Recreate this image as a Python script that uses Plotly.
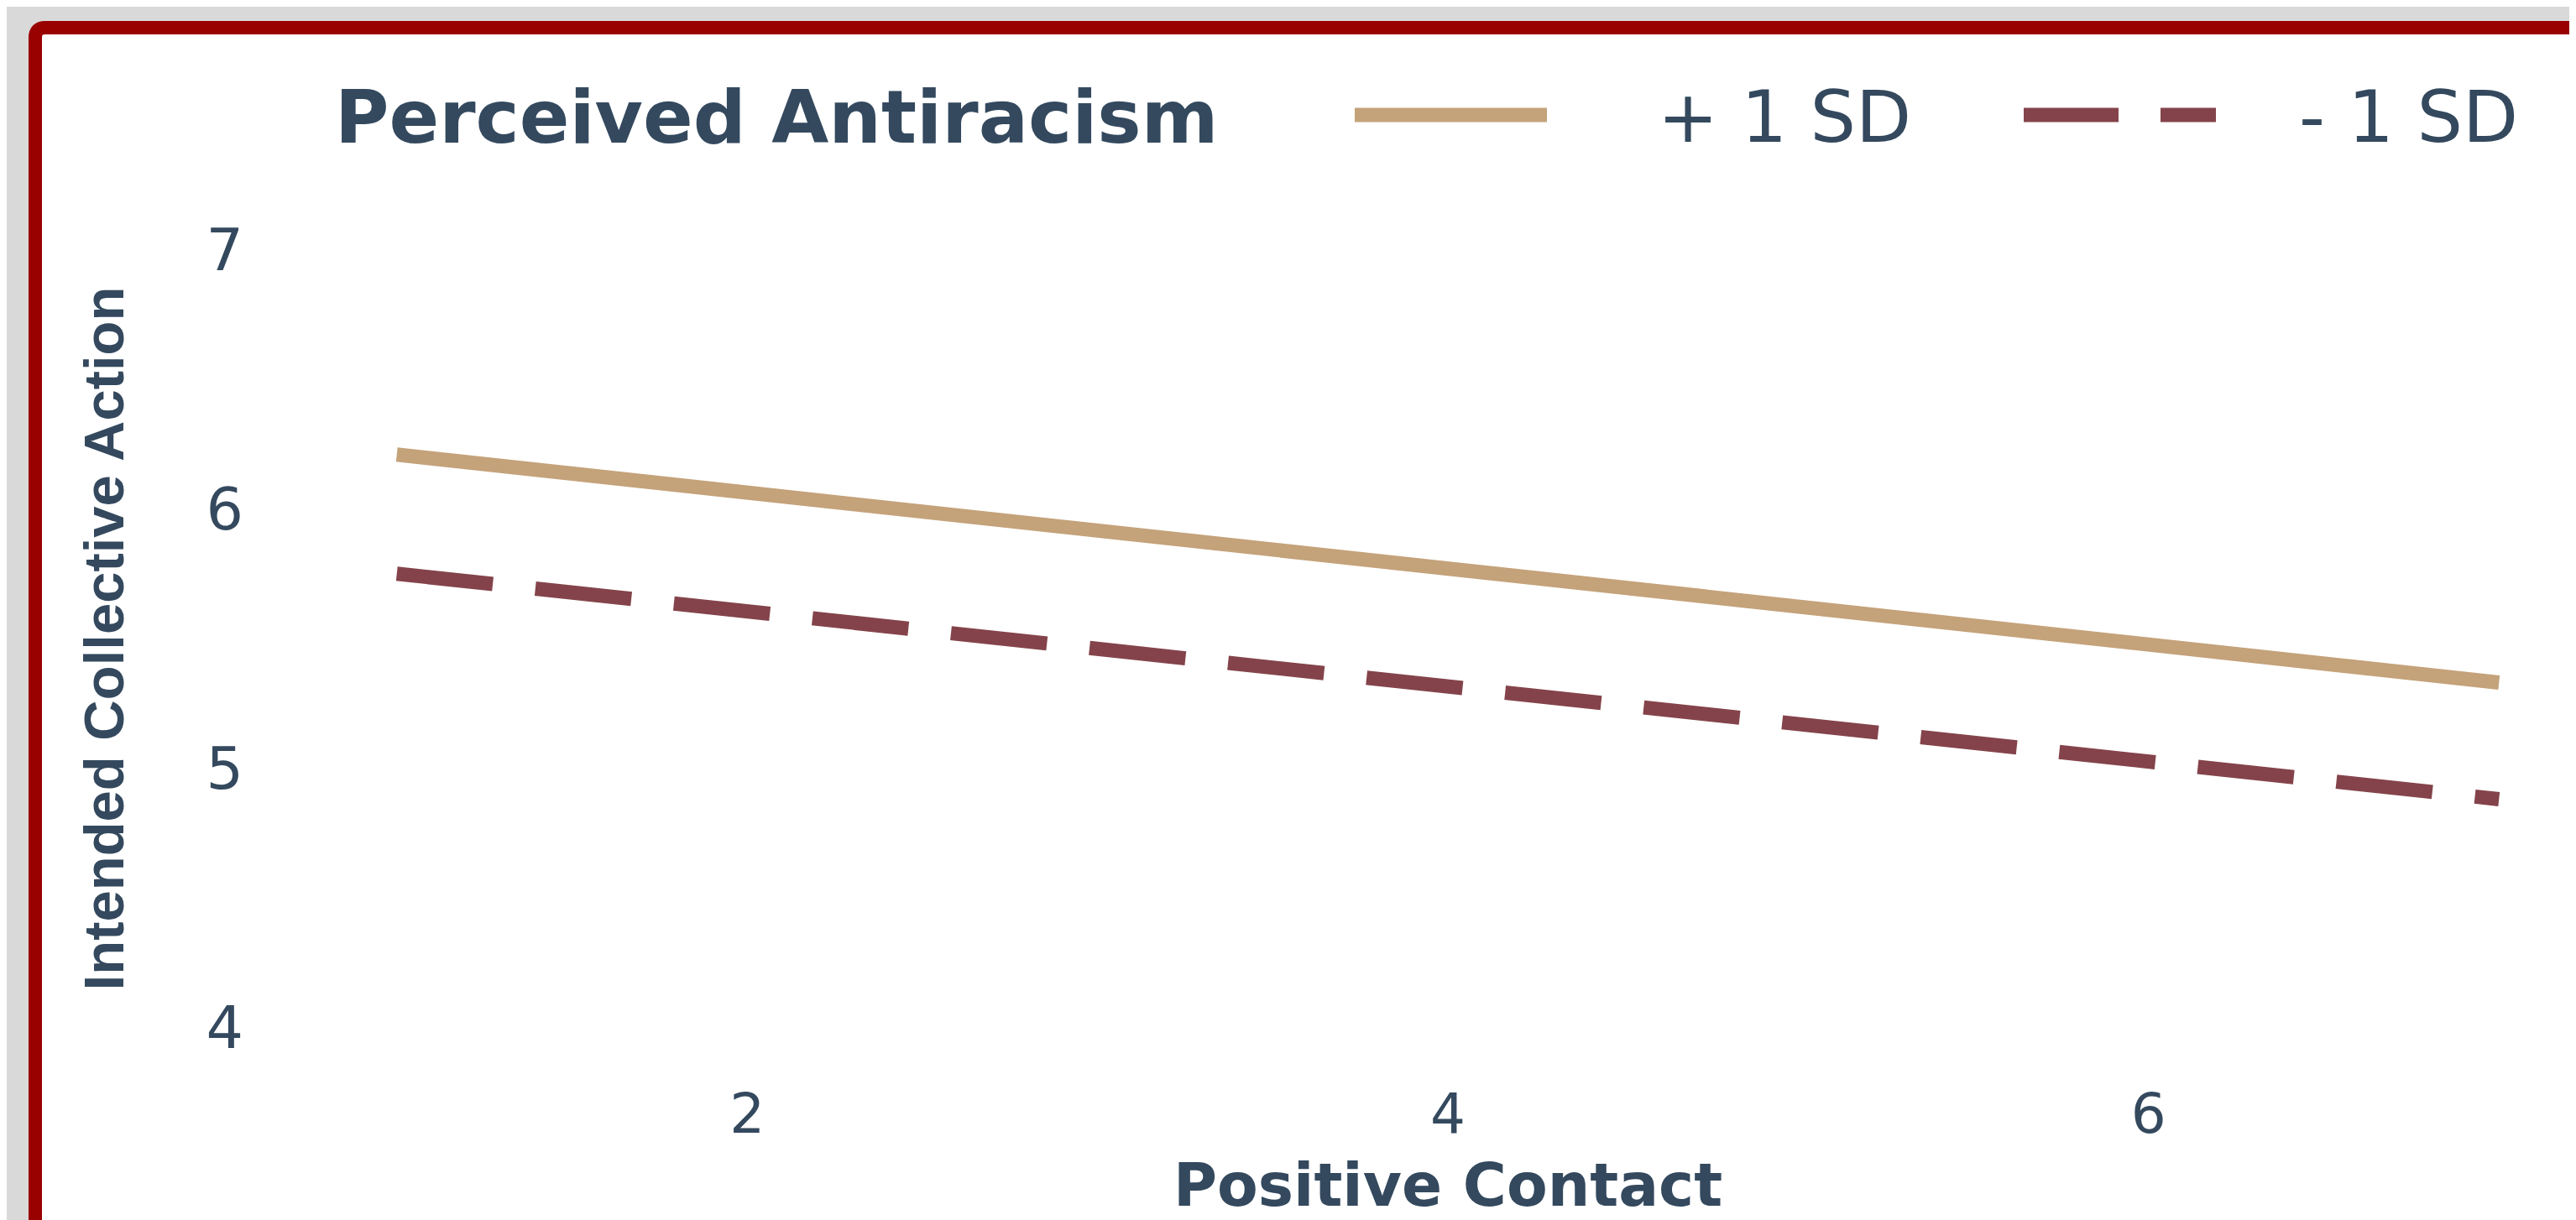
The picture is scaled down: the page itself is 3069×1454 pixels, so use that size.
import plotly.graph_objects as go

# ---- data ----
positive_contact = [1, 7]
plus_1sd = [6.21, 5.33]
minus_1sd = [5.75, 4.88]
x_ticks = [2, 4, 6]
y_ticks = [4, 5, 6, 7]
legend_title = "Perceived Antiracism"
series_names = ["+ 1 SD", "- 1 SD"]
x_title = "Positive Contact"
y_title = "Intended Collective Action"

# ---- styling ----
W, H = 3069, 1454
OFF = 8  # page body margin: the figure is drawn 8px right/down in the page
# plot area in page pixels: left 431, top 267, right 3019, bottom 1255
L, T = 431 - OFF, 267 - OFF
R, B = W - (3019 - OFF), H - (1255 - OFF)
PW, PH = W - L - R, H - T - B
TEXT = "#34495e"
TAN = "#c4a27a"
MAROON = "#84434a"
BORDER = "#990000"
BG = "#d9d9d9"
WIDE = "DejaVu Sans, Verdana, sans-serif"
ARIAL = "Liberation Sans, Arial, sans-serif"
LW = 17
DASH = "115px,51px"


def px(xp):  # page x pixel -> paper fraction
    return (xp - OFF - L) / PW


def py(yp):  # page y pixel -> paper fraction
    return (H - B - (yp - OFF)) / PH


fig = go.Figure()
fig.add_trace(go.Scatter(x=positive_contact, y=plus_1sd, mode="lines", name=series_names[0],
                         line=dict(color=TAN, width=LW)))
fig.add_trace(go.Scatter(x=positive_contact, y=minus_1sd, mode="lines", name=series_names[1],
                         line=dict(color=MAROON, width=LW, dash=DASH)))

# panel with dark red border (extends past the right and bottom edges)
x0, y0, r = 42, 33, 12
xf, yf = 3300, 1700
path = (f"M {px(x0)},{py(yf)} L {px(x0)},{py(y0 + r)} "
        f"Q {px(x0)},{py(y0)} {px(x0 + r)},{py(y0)} "
        f"L {px(xf)},{py(y0)} L {px(xf)},{py(yf)} Z")
shapes = [dict(type="path", xref="paper", yref="paper", path=path, layer="below",
               fillcolor="white", line=dict(color=BORDER, width=16))]

# legend (drawn manually so the swatches match the reference size)
LEG_Y = 137
shapes.append(dict(type="line", xref="paper", yref="paper", x0=px(1614), x1=px(1843),
                   y0=py(LEG_Y), y1=py(LEG_Y), line=dict(color=TAN, width=LW)))
shapes.append(dict(type="line", xref="paper", yref="paper", x0=px(2411), x1=px(2640),
                   y0=py(LEG_Y), y1=py(LEG_Y), line=dict(color=MAROON, width=LW, dash="113px,50px")))

annotations = [
    dict(text=f"<b>{legend_title}</b>", xref="paper", yref="paper", x=px(397), y=py(LEG_Y + 2),
         xanchor="left", yanchor="middle", showarrow=False,
         font=dict(family=WIDE, size=88, color=TEXT)),
    dict(text=series_names[0], xref="paper", yref="paper", x=px(2126), y=py(LEG_Y + 2),
         xanchor="center", yanchor="middle", showarrow=False,
         font=dict(family=WIDE, size=86, color=TEXT)),
    dict(text=series_names[1], xref="paper", yref="paper", x=px(2737), y=py(LEG_Y + 2),
         xanchor="left", yanchor="middle", showarrow=False,
         font=dict(family=WIDE, size=86, color=TEXT)),
    # x-axis title (placed as an annotation so it sits right at the bottom like the reference)
    dict(text=f"<b>{x_title}</b>", xref="paper", yref="paper", x=0.5, y=py(1412),
         xanchor="center", yanchor="middle", showarrow=False,
         font=dict(family=WIDE, size=71, color=TEXT)),
]

fig.update_layout(
    width=W, height=H,
    margin=dict(l=L, r=R, t=T, b=B, pad=0),
    paper_bgcolor=BG, plot_bgcolor="white",
    showlegend=False,
    shapes=shapes, annotations=annotations,
    font=dict(family=WIDE, color=TEXT),
)
fig.update_xaxes(range=[0.9, 7.1], tickvals=x_ticks, showgrid=False, zeroline=False, showline=False,
                 ticks="", ticklabelstandoff=28, tickfont=dict(family=WIDE, size=66, color=TEXT),
                 automargin=False)
fig.update_yaxes(range=[3.9, 7.1], tickvals=y_ticks, showgrid=False, zeroline=False, showline=False,
                 ticks="", ticklabelstandoff=140, tickfont=dict(family=WIDE, size=70, color=TEXT),
                 title=dict(text=f"<b>{y_title}</b>", standoff=76,
                            font=dict(family=ARIAL, size=67, color=TEXT)),
                 automargin=False)

fig.write_html("out.html", config={"displayModeBar": False})
